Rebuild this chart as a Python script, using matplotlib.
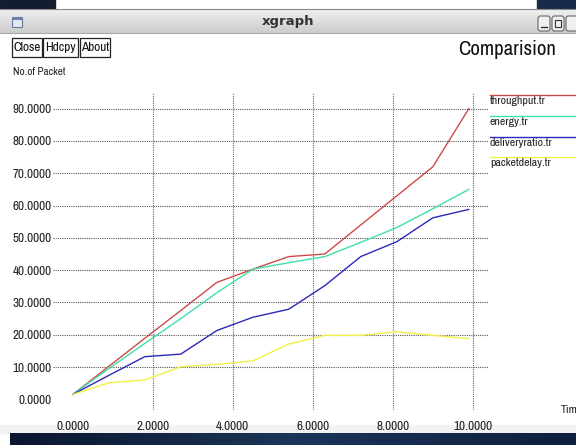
import matplotlib
matplotlib.use("Agg")
import matplotlib.pyplot as plt
from matplotlib.patches import Rectangle, FancyBboxPatch
import numpy as np
import logging
logging.getLogger("matplotlib.font_manager").setLevel(logging.ERROR)

plt.rcParams['font.family'] = ['Liberation Sans Narrow', 'Archivo Narrow', 'DejaVu Sans']

# ---- data ----
time = [0.0, 0.9, 1.8, 2.7, 3.6, 4.5, 5.4, 6.3, 7.2, 8.1, 9.0, 9.9]
throughput = [1.5, 10.2, 18.9, 27.5, 36.2, 40.3, 44.2, 45.0, 54.0, 63.0, 72.0, 90.0]
energy = [1.5, 9.5, 17.3, 25.0, 33.0, 40.3, 42.3, 44.2, 48.6, 53.2, 59.0, 65.0]
delivery = [1.5, 7.4, 13.2, 14.0, 21.3, 25.4, 27.9, 35.2, 44.2, 48.8, 56.2, 58.8]
delay = [1.5, 5.1, 6.0, 10.1, 10.8, 11.9, 17.1, 19.8, 19.8, 20.9, 19.8, 18.8]
series_names = ["throughput.tr", "energy.tr", "deliveryratio.tr", "packetdelay.tr"]
series_colors = ["#cc4a4a", "#3fe0aa", "#2a2ab8", "#f4ee48"]
xticks = [0, 2, 4, 6, 8, 10]
yticks = [0, 10, 20, 30, 40, 50, 60, 70, 80, 90]

W, H = 576, 445
fig = plt.figure(figsize=(W / 100, H / 100), dpi=100)
fig.patch.set_facecolor("white")

# background / window decoration axes in pixel coordinates
bg = fig.add_axes([0, 0, 1, 1])
bg.set_xlim(0, W)
bg.set_ylim(H, 0)
bg.axis("off")
# top desktop strip
bg.add_patch(Rectangle((0, 0), 55, 9, color="#141c30"))
bg.add_patch(Rectangle((537, 0), 39, 9, color="#1a2a4a"))
# title bar gradient
grad = np.linspace(0.94, 0.80, 50).reshape(-1, 1)
bg.imshow(grad, extent=(0, W, 33, 9), cmap="gray", vmin=0, vmax=1, aspect="auto", zorder=1)
bg.plot([0, W], [9, 9], color="#888888", lw=0.8, zorder=2)
bg.plot([0, W], [33, 33], color="#aaaaaa", lw=0.8, zorder=2)
bg.text(288, 21, "xgraph", ha="center", va="center", fontsize=9.5, fontweight="bold",
        color="#333333", family=["DejaVu Sans"], zorder=3)
bg.add_patch(Rectangle((12, 17), 10, 10, facecolor="#e4e8f0", edgecolor="#6a7a9a", lw=0.8, zorder=3))
bg.add_patch(Rectangle((12, 17), 10, 2.5, facecolor="#6a80b0", edgecolor="none", zorder=3))
for bx in (538, 552, 566):
    bg.add_patch(FancyBboxPatch((bx, 16), 12, 15, boxstyle="round,pad=0,rounding_size=2.5",
                                facecolor="#f0f0f0", edgecolor="#666666", lw=0.8, zorder=3))
bg.plot([541, 547], [27, 27], color="#333333", lw=1.0, zorder=4)
bg.add_patch(Rectangle((555, 20), 6, 7, facecolor="none", edgecolor="#333333", lw=0.8, zorder=4))
# bottom desktop strip
bg.add_patch(Rectangle((0, 425), W, 8, color="#f2f2f2", zorder=0))
grad2 = np.linspace(0.0, 1.0, 60).reshape(1, -1)
bg.imshow(grad2, extent=(10, W, H, 433), cmap=matplotlib.colors.LinearSegmentedColormap.from_list(
    "d", ["#0a1630", "#1c3558", "#0e1f40"]), aspect="auto", zorder=1)
# buttons
for (x0, x1, lab) in [(12, 42, "Close"), (43, 78, "Hdcpy"), (80, 110, "About")]:
    bg.add_patch(Rectangle((x0, 38), x1 - x0, 19, facecolor="white", edgecolor="#222222", lw=0.9))
    bg.text((x0 + x1) / 2, 47.5, lab, ha="center", va="center", fontsize=9.5, color="#111111")
bg.text(507, 55, "Comparision", ha="center", va="baseline", fontsize=15, color="#111111")
bg.text(13, 72, "No.of Packet", ha="left", va="center", fontsize=8, color="#222222")
bg.text(561, 410, "Time", ha="left", va="center", fontsize=8.5, color="#222222")

# legend (line above label)
leg_y = [95, 116, 136.5, 156.5]
for name, col, ly in zip(series_names, series_colors, leg_y):
    bg.plot([490, W], [ly, ly], color=col, lw=1.0)
    bg.text(490, ly + 6, name, ha="left", va="center", fontsize=8.5, color="#222222")

# ---- plot axes ----
left, right, top, bottom = 53, 489, 93, 410
ax = fig.add_axes([left / W, (H - bottom) / H, (right - left) / W, (bottom - top) / H])
ax.patch.set_alpha(0)
x0p, xs = 72.8, 40.0      # pixel of x=0, pixels per unit
y0p, ys = 399.3, 3.229    # pixel of y=0, pixels per unit
ax.set_xlim((left - x0p) / xs, (right - x0p) / xs)
ax.set_ylim((y0p - bottom) / ys, (y0p - top) / ys)
for s in ax.spines.values():
    s.set_visible(False)

for t in yticks[1:]:
    ax.axhline(t, color="#555555", lw=0.8, ls=(0, (1, 1)), zorder=1)
for t in xticks[1:]:
    ax.axvline(t, color="#666666", lw=0.8, ls=(0, (1, 1)), zorder=1)

for vals, col in zip([throughput, energy, delivery, delay], series_colors):
    ax.plot(time, vals, color=col, lw=1.0, zorder=3)

ax.set_xticks(xticks)
ax.set_xticklabels([f"{t:.4f}" for t in xticks])
ax.set_yticks(yticks)
ax.set_yticklabels([f"{t:.4f}" for t in yticks])
ax.tick_params(axis="both", length=0, labelsize=9.5, labelcolor="#222222")
ax.tick_params(axis="y", pad=1)
ax.tick_params(axis="x", pad=8)

fig.savefig("out.png", dpi=100)
